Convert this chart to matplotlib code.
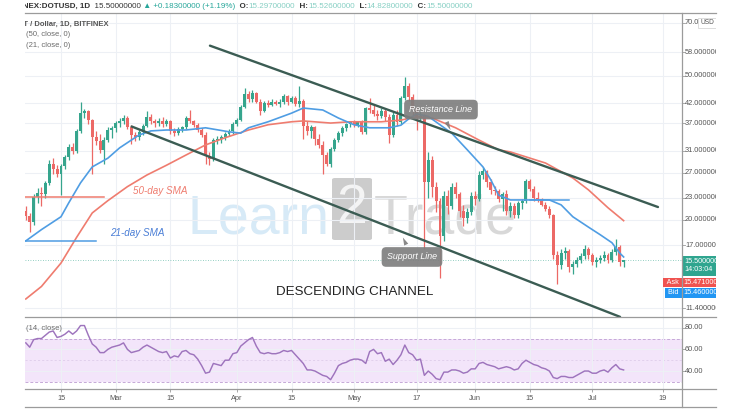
import matplotlib
matplotlib.use("Agg")
import matplotlib.pyplot as plt
import matplotlib.dates as mdates
from matplotlib.lines import Line2D
from matplotlib.patches import FancyBboxPatch
from matplotlib.ticker import NullLocator
import numpy as np
import pandas as pd

plt.rcParams["font.family"] = ["Liberation Sans", "DejaVu Sans"]

# DOT/USD daily candles, Bitfinex, 6 Feb - 9 Jul 2021
first_day = "2021-02-06"
opens = [21.2, 20.5, 19.7, 23.2, 23.7, 23.5, 25.2, 28.6, 27.6, 26.8,
         28.2, 29.8, 31.8, 31.0, 35.2, 39.5, 39.9, 37.7, 33.9, 33.0,
         31.2, 33.3, 35.4, 35.8, 36.9, 37.6, 38.3, 36.1, 34.4, 33.8,
         35.0, 36.4, 38.4, 37.4, 36.9, 37.6, 36.7, 37.4, 35.1, 34.7,
         35.6, 36.0, 38.2, 37.4, 36.6, 35.4, 34.4, 30.0, 29.4, 33.2,
         33.4, 33.8, 34.5, 35.1, 36.8, 37.8, 41.0, 44.4, 43.0, 44.8,
         42.4, 40.0, 42.0, 41.6, 42.4, 41.8, 42.2, 43.8, 42.4, 43.4,
         41.8, 42.6, 36.4, 35.2, 36.0, 33.4, 32.2, 30.2, 28.6, 31.4,
         33.2, 34.8, 35.8, 36.7, 37.2, 36.6, 37.2, 35.0, 40.6, 40.2,
         39.2, 38.6, 40.0, 38.4, 34.2, 39.0, 37.2, 43.4, 46.9, 43.6,
         40.4, 38.2, 38.6, 25.4, 29.3, 24.6, 22.5, 18.0, 23.3, 21.8,
         24.6, 23.6, 21.2, 20.2, 21.0, 23.3, 22.8, 26.6, 27.2, 25.4,
         24.2, 24.0, 22.8, 23.5, 21.2, 21.8, 20.6, 22.2, 22.6, 25.6,
         24.4, 23.0, 22.8, 22.0, 21.4, 20.6, 16.0, 15.0, 16.2, 16.4,
         14.8, 15.1, 15.5, 15.9, 16.6, 16.0, 15.3, 15.5, 15.7, 16.0,
         15.5, 16.3, 16.8, 15.297]
highs = [21.8, 20.9, 23.6, 24.5, 24.6, 25.6, 29.2, 29.6, 28.4, 28.6,
         30.2, 32.4, 32.6, 35.6, 42.3, 40.4, 40.3, 38.0, 35.2, 34.6,
         33.8, 36.0, 36.2, 37.4, 38.2, 39.0, 38.8, 36.6, 35.0, 35.4,
         36.8, 40.0, 39.2, 38.0, 38.2, 38.4, 38.0, 37.8, 35.8, 36.0,
         36.4, 38.6, 40.2, 37.8, 37.0, 35.8, 35.0, 30.8, 33.6, 34.0,
         34.2, 35.0, 35.6, 37.2, 38.2, 41.6, 46.2, 45.4, 45.6, 45.2,
         43.0, 42.6, 42.8, 43.2, 42.8, 43.0, 44.4, 44.2, 43.8, 44.0,
         46.9, 43.0, 37.4, 36.6, 36.4, 34.6, 33.0, 30.8, 31.8, 33.6,
         35.2, 36.2, 37.0, 37.6, 37.8, 37.6, 37.8, 41.0, 43.5, 41.4,
         40.2, 40.6, 40.8, 39.2, 39.6, 40.2, 43.8, 49.5, 47.6, 44.4,
         41.0, 40.4, 39.2, 30.8, 30.0, 25.4, 23.0, 24.0, 24.2, 25.2,
         25.4, 23.8, 22.0, 21.6, 23.8, 24.0, 27.2, 28.0, 27.4, 26.0,
         24.8, 24.4, 23.8, 24.2, 22.4, 22.2, 22.6, 22.8, 26.0, 26.0,
         24.8, 23.8, 23.0, 22.4, 21.8, 20.8, 16.4, 16.6, 16.8, 16.6,
         15.4, 15.8, 16.2, 17.0, 16.8, 16.2, 15.8, 16.0, 16.4, 16.2,
         16.6, 17.7, 17.0, 15.526]
lows = [20.0, 18.5, 19.3, 22.3, 21.8, 23.0, 25.0, 26.8, 26.2, 23.4,
        27.6, 29.2, 30.4, 30.6, 34.8, 38.2, 36.8, 26.7, 32.2, 30.6,
        28.6, 32.8, 33.6, 35.0, 36.0, 36.8, 35.6, 32.4, 33.0, 33.2,
        34.4, 36.0, 36.8, 36.0, 36.2, 36.0, 36.3, 34.6, 34.0, 34.2,
        35.0, 35.6, 37.0, 36.0, 35.0, 33.8, 28.6, 28.4, 29.0, 32.4,
        32.6, 33.2, 34.0, 34.6, 36.2, 37.4, 40.8, 42.2, 42.4, 42.0,
        39.0, 39.6, 41.0, 41.2, 41.4, 41.0, 41.8, 41.6, 42.0, 41.2,
        41.0, 33.4, 34.4, 33.6, 32.2, 31.6, 26.7, 28.2, 28.0, 31.0,
        32.8, 34.0, 35.2, 36.0, 36.0, 36.0, 34.6, 34.6, 39.4, 38.6,
        37.8, 38.2, 37.6, 32.6, 33.8, 36.4, 36.8, 42.8, 42.6, 38.6,
        35.4, 37.6, 16.6, 23.0, 23.2, 21.0, 13.8, 17.5, 20.8, 21.4,
        23.0, 20.4, 19.2, 19.6, 20.6, 22.0, 22.6, 26.0, 24.6, 23.6,
        23.4, 22.4, 21.2, 20.6, 20.4, 20.2, 20.2, 21.4, 22.2, 24.0,
        22.6, 22.4, 21.8, 21.2, 20.2, 15.6, 13.3, 14.6, 15.6, 14.4,
        14.2, 14.8, 15.2, 15.6, 15.6, 15.0, 14.8, 15.2, 15.4, 15.2,
        15.3, 16.0, 14.9, 14.828]
closes = [20.5, 19.7, 23.2, 23.7, 23.5, 25.2, 28.6, 27.6, 26.8, 28.2,
          29.8, 31.8, 31.0, 35.2, 39.5, 39.9, 37.7, 33.9, 33.0, 31.2,
          33.3, 35.4, 35.8, 36.9, 37.6, 38.3, 36.1, 34.4, 33.8, 35.0,
          36.4, 38.4, 37.4, 36.9, 37.6, 36.7, 37.4, 35.1, 34.7, 35.6,
          36.0, 38.2, 37.4, 36.6, 35.4, 34.4, 30.0, 29.4, 33.2, 33.4,
          33.8, 34.5, 35.1, 36.8, 37.8, 41.0, 44.4, 43.0, 44.8, 42.4,
          40.0, 42.0, 41.6, 42.4, 41.8, 42.2, 43.8, 42.4, 43.4, 41.8,
          42.6, 36.4, 35.2, 36.0, 33.4, 32.2, 30.2, 28.6, 31.4, 33.2,
          34.8, 35.8, 36.7, 37.2, 36.6, 37.2, 35.0, 40.6, 40.2, 39.2,
          38.6, 40.0, 38.4, 34.2, 39.0, 37.2, 43.4, 46.9, 43.6, 40.4,
          38.2, 38.6, 25.4, 29.3, 24.6, 22.5, 18.0, 23.3, 21.8, 24.6,
          23.6, 21.2, 20.2, 21.0, 23.3, 22.8, 26.6, 27.2, 25.4, 24.2,
          24.0, 22.8, 23.5, 21.2, 21.8, 20.6, 22.2, 22.6, 25.6, 24.4,
          23.0, 22.8, 22.0, 21.4, 20.6, 16.0, 15.0, 16.2, 16.4, 14.8,
          15.1, 15.5, 15.9, 16.6, 16.0, 15.3, 15.5, 15.7, 16.0, 15.5,
          16.3, 16.8, 15.317, 15.5]

# moving averages, sampled along the drawn curves (candle index, value)
sma50_idx = [0, 4, 9, 13, 17, 21, 26, 31, 36, 41, 46, 51, 57, 62, 68, 71,
             78, 83, 91, 96, 100, 104, 110, 116, 121, 124, 133, 140, 144, 149, 153]
sma50_val = [12.1, 13.1, 15.2, 17.9, 20.9, 22.6, 24.7, 26.6, 28.3, 30.2, 32.2,
             33.7, 35.4, 36.6, 37.3, 37.5, 37.0, 37.3, 37.3, 37.7, 38.5, 38.2,
             35.9, 33.2, 31.2, 30.8, 28.7, 26.1, 24.2, 21.6, 19.9]
sma21_idx = [0, 4, 9, 11, 14, 17, 21, 24, 27, 29, 32, 36, 41, 46, 52, 55, 57,
             62, 68, 71, 76, 80, 84, 88, 93, 96, 98, 100, 103, 109, 113, 117,
             119, 121, 124, 129, 134, 137, 140, 144, 147, 150, 152, 153]
sma21_val = [17.5, 18.8, 20.4, 22.3, 25.3, 28.0, 29.6, 31.6, 33.2, 34.3, 35.2,
             35.4, 35.4, 35.9, 35.0, 34.7, 35.9, 37.3, 39.4, 40.7, 40.2, 38.2,
             36.6, 35.9, 35.9, 36.5, 38.0, 39.2, 38.6, 34.7, 31.2, 28.0, 25.8,
             23.4, 22.7, 22.7, 22.7, 22.0, 20.4, 19.1, 18.2, 17.3, 16.2, 15.8]

rsi = [66, 62, 69, 70, 70, 73, 76, 77, 71, 72,
       74, 77, 74, 77, 82, 82, 73, 65, 62, 57,
       57, 60, 62, 63, 64, 66, 60, 57, 58, 59,
       62, 64, 62, 60, 58, 57, 58, 52, 54, 53,
       58, 59, 56, 55, 51, 45, 38, 39, 47, 46,
       45, 50, 50, 56, 57, 63, 66, 69, 71, 63,
       57, 56, 57, 56, 56, 57, 59, 58, 59, 55,
       51, 47, 41, 41, 40, 38, 36, 35, 32, 38,
       45, 47, 48, 50, 51, 51, 50, 47, 58, 60,
       56, 57, 49, 51, 46, 50, 55, 64, 57, 55,
       50, 51, 36, 40, 37, 33, 32, 39, 39, 41,
       41, 40, 38, 39, 42, 42, 47, 48, 46, 45,
       44, 42, 43, 44, 43, 41, 42, 47, 50, 48,
       46, 45, 43, 42, 40, 34, 33, 35, 35, 34,
       34, 36, 38, 40, 40, 38, 38, 40, 41, 39,
       43, 46, 42, 41]

ask_price = 15.471
bid_price = 15.46
countdown = "14:03:04"

price_ticks = [11.4, 17, 20, 23, 27, 31, 37, 42, 50, 58, 70]
rsi_ticks = [40, 60, 80]
time_ticks = ["2021-02-15", "2021-03-01", "2021-03-15", "2021-04-01", "2021-04-15",
              "2021-05-01", "2021-05-17", "2021-06-01", "2021-06-15", "2021-07-01",
              "2021-07-19"]
time_labels = ["15", "Mar", "15", "Apr", "15", "May", "17", "Jun", "15", "Jul", "19"]

# drawings on the chart
resistance = (["2021-03-25 03:00", "2021-07-17 19:00"], [60.5, 21.7])
support = (["2021-03-05 02:00", "2021-07-08 02:00"], [36.2, 10.8])
sma50_mark = (["2021-02-05 19:00", "2021-02-26"], 23.1)
sma21_mark = (["2021-02-05 19:00", "2021-02-24"], 17.5)
sma21_mark2 = (["2021-06-15", "2021-06-25"], 22.7)

GREEN = "#36a58d"
RED = "#ec6966"
SMA_RED = "#ef7c6f"
SMA_BLUE = "#4f9de3"
CHANNEL = "#3b5c53"
GRID = "#edf0f5"
FRAME = "#9b9b9b"
TXT = "#555555"

W, H = 740, 416


def num(s):
    return mdates.date2num(pd.Timestamp(s))


def frame(x0, y0, x1, y1):
    return [x0 / W, 1 - y1 / H, (x1 - x0) / W, (y1 - y0) / H]


def fxy(x, y):
    return x / W, 1 - y / H


fig = plt.figure(figsize=(W / 100, H / 100), dpi=100)
fig.patch.set_facecolor("white")

ax = fig.add_axes(frame(25, 13, 682, 317))
ax_rsi = fig.add_axes(frame(25, 317, 682, 389), sharex=ax)
ax.set_yscale("log")
ax_ps = fig.add_axes(frame(682, 13, 716, 317), sharey=ax)
ax_rs = fig.add_axes(frame(682, 317, 716, 389), sharey=ax_rsi)
ax_top = fig.add_axes(frame(25, 0, 716, 13))

dates = mdates.date2num(pd.date_range(first_day, periods=len(closes), freq="D"))
o, h, l, c = map(np.array, (opens, highs, lows, closes))

x0 = num("2021-02-15")
ax.set_xlim(x0 - 9.21, x0 + 158.94)
ax.set_ylim(10.79, 74.45)
ax.set_yticks(price_ticks)
ax.yaxis.set_minor_locator(NullLocator())
ax.set_xticks([num(t) for t in time_ticks])
ax.tick_params(which="both", length=0, labelleft=False, labelbottom=False)
ax.grid(True, color=GRID, lw=0.8, zorder=0)
for s in ax.spines.values():
    s.set_visible(False)

# candles
up = c >= o
colors = np.where(up, GREEN, RED)
ax.vlines(dates, l, h, colors=colors, lw=0.9, zorder=3)
bottom = np.minimum(o, c)
height = np.maximum(np.abs(c - o), bottom * 0.004)
ax.bar(dates, height, bottom=bottom, width=0.76, color=colors, lw=0, zorder=3)

# moving averages
ax.plot(dates[sma50_idx], sma50_val, color=SMA_RED, lw=1.2, zorder=4)
ax.plot(dates[sma21_idx], sma21_val, color=SMA_BLUE, lw=1.2, zorder=4)

# last price line
ax.axhline(closes[-1], color=GREEN, lw=0.6, ls=(0, (1, 2)), alpha=0.7, zorder=2)

# channel and marker lines
for d, v in (resistance, support):
    ax.plot([num(t) for t in d], v, color=CHANNEL, lw=1.7, zorder=5,
            solid_capstyle="round")
ax.plot([num(t) for t in sma50_mark[0]], [sma50_mark[1]] * 2, color=SMA_RED, lw=1.1, zorder=4)
ax.plot([num(t) for t in sma21_mark[0]], [sma21_mark[1]] * 2, color=SMA_BLUE, lw=1.1, zorder=4)
ax.plot([num(t) for t in sma21_mark2[0]], [sma21_mark2[1]] * 2, color=SMA_BLUE, lw=1.1, zorder=4)

ax.text(num("2021-03-05 10:00"), 24.0, "50-day SMA", color=SMA_RED, fontsize=7.1,
        style="italic", va="center", ha="left", zorder=6)
ax.text(num("2021-02-27 12:00"), 18.4, "21-day SMA", color="#4a7ed6", fontsize=7.1,
        style="italic", va="center", ha="left", zorder=6)
chan = ax.text(num("2021-04-11"), 12.65, "DESCENDING CHANNEL", color="#222222",
               fontsize=12, va="center", ha="left", zorder=6,
               family=["Liberation Sans Narrow", "Liberation Sans"])

label_box = dict(boxstyle="round,pad=0.6,rounding_size=0.5", fc="#7f7f7f", ec="none", alpha=0.92)
wedge = dict(arrowstyle="wedge,tail_width=0.5,shrink_factor=0.5", fc="#7f7f7f", ec="none", alpha=0.92)
ax.annotate("Resistance Line", xy=(num("2021-05-26"), 34.8),
            xytext=(num("2021-05-23 06:00"), 40.3), ha="center", va="center",
            color="white", fontsize=6.4, style="italic", bbox=label_box,
            arrowprops=wedge, zorder=7)
ax.annotate("Support Line", xy=(num("2021-05-13 05:00"), 18.17),
            xytext=(num("2021-05-15 20:00"), 15.8), ha="center", va="center",
            color="white", fontsize=6.4, style="italic", bbox=label_box,
            arrowprops=wedge, zorder=7)

# watermark
wm = dict(transform=fig.transFigure, fontsize=40, va="baseline", ha="left",
          zorder=1, clip_on=False)
ax.text(*fxy(188, 233), "Learn", color="#d7eaf7", **wm)
ax.add_patch(FancyBboxPatch(fxy(332, 240), 40 / W, 62 / H,
                            boxstyle="round,pad=0,rounding_size=0.004",
                            transform=fig.transFigure, fc="#cccccc", ec="none",
                            zorder=1, clip_on=False))
ax.text(*fxy(352, 209), "2", color="#f4f4f4", transform=fig.transFigure, fontsize=40,
        va="center", ha="center", zorder=1, clip_on=False)
ax.text(*fxy(374, 233), "Trade", color="#d8d8d8", **wm)

# legend text top-left
ax.text(-0.02, (317 - 24) / 304, "DOT / Dollar, 1D, BITFINEX", transform=ax.transAxes,
        fontsize=5.5, fontweight="bold", color=TXT, va="center", ha="left", clip_on=True)
ax.text(0.001, (317 - 34.5) / 304, "(50, close, 0)", transform=ax.transAxes,
        fontsize=5.5, color="#6a6a6a", va="center", ha="left", clip_on=True)
ax.text(0.001, (317 - 45.7) / 304, "(21, close, 0)", transform=ax.transAxes,
        fontsize=5.5, color="#6a6a6a", va="center", ha="left", clip_on=True)

# RSI pane
ax_rsi.set_ylim(23.4, 89.9)
ax_rsi.axhspan(30, 70, color="#f3e5fa", lw=0, zorder=0.5)
for lvl in (30, 70):
    ax_rsi.axhline(lvl, color="#c6a9d8", lw=0.7, ls=(0, (3, 2)), zorder=1)
ax_rsi.axhline(50, color="#dac7e6", lw=0.5, ls=(0, (3, 3)), zorder=1)
ax_rsi.plot(dates, rsi, color="#9e74bd", lw=1.05, zorder=3)
ax_rsi.set_yticks(rsi_ticks)
ax_rsi.set_xticks([num(t) for t in time_ticks], time_labels)
ax_rsi.grid(True, color=GRID, lw=0.8, zorder=0)
ax_rsi.tick_params(axis="x", length=2.5, width=0.6, color="#999999", labelsize=5.3,
                   labelcolor=TXT, pad=2.0)
ax_rsi.tick_params(axis="y", length=0, labelleft=False)
for s in ax_rsi.spines.values():
    s.set_visible(False)
ax_rsi.text(0.001, (389 - 328) / 72, "(14, close)", transform=ax_rsi.transAxes,
            fontsize=5.5, color="#6a6a6a", va="center", ha="left", clip_on=True)

# price scale
ax_ps.set_xlim(0, 1)
ax_ps.axis("off")
for v in price_ticks:
    ax_ps.plot([0, 0.08], [v, v], color=FRAME, lw=0.6, clip_on=False)
    label = f"{v:.1f}" if v == price_ticks[-1] else f"{v:.8f}"
    ax_ps.text(0.09, v, label, fontsize=5.3, color=TXT, va="center", ha="left",
               clip_on=True)
ax_ps.text(0.53, price_ticks[-1], "USD", fontsize=4.8, color=TXT, va="center", ha="left",
           bbox=dict(boxstyle="square,pad=0.25", fc="white", ec="#cfcfcf", lw=0.5),
           clip_on=True)
ax_ps.annotate(f"{closes[-1]:.8f}\n{countdown}", xy=(0, closes[-1]), xytext=(2.5, 1.5),
               textcoords="offset pixels", va="top", ha="left", color="white", fontsize=5.2,
               linespacing=1.2, bbox=dict(boxstyle="square,pad=0.35", fc="#2fa58f", ec="none"),
               annotation_clip=False, clip_on=True)
ax_ps.annotate(f"{ask_price:.8f}", xy=(0, ask_price), xytext=(1.4, -22.2),
               textcoords="offset pixels", va="center", ha="left", color="white", fontsize=5.2,
               bbox=dict(boxstyle="square,pad=0.2", fc="#ef5350", ec="none"),
               annotation_clip=False, clip_on=True)
ax_ps.annotate(f"{bid_price:.8f}", xy=(0, bid_price), xytext=(1.4, -32.3),
               textcoords="offset pixels", va="center", ha="left", color="white", fontsize=5.2,
               bbox=dict(boxstyle="square,pad=0.2", fc="#2196f3", ec="none"),
               annotation_clip=False, clip_on=True)
ax.annotate(" Ask ", xy=(1, ask_price), xycoords=("axes fraction", "data"), xytext=(-1.4, -22.2),
            textcoords="offset pixels", va="center", ha="right", color="white", fontsize=5.2,
            bbox=dict(boxstyle="square,pad=0.2", fc="#ef5350", ec="none"), zorder=8,
            annotation_clip=False)
ax.annotate(" Bid ", xy=(1, bid_price), xycoords=("axes fraction", "data"), xytext=(-1.4, -32.3),
            textcoords="offset pixels", va="center", ha="right", color="white", fontsize=5.2,
            bbox=dict(boxstyle="square,pad=0.2", fc="#2196f3", ec="none"), zorder=8,
            annotation_clip=False)

ax_rs.set_xlim(0, 1)
ax_rs.axis("off")
for v in rsi_ticks:
    ax_rs.plot([0, 0.08], [v, v], color=FRAME, lw=0.6, clip_on=False)
    ax_rs.text(0.09, v, f"{v:.2f}", fontsize=5.3, color=TXT, va="center", ha="left",
               clip_on=True)

# frame lines
for y in (13, 317, 389, 407):
    fig.add_artist(Line2D([25 / W, 716 / W], [1 - y / H] * 2, color=FRAME, lw=0.9))
fig.add_artist(Line2D([682 / W] * 2, [1 - 13 / H, 1 - 407 / H], color=FRAME, lw=0.9))

# header line
ax_top.set_xlim(25, 716)
ax_top.set_ylim(13, 0)
ax_top.axis("off")
change = closes[-1] - closes[-2]
pct = change / closes[-2] * 100
dark, teal, pale = "#333333", "#26a69a", "#86cfc3"
parts = [("BITFINEX:DOTUSD, 1D", "bold", dark),
         (f"  {closes[-1]:.8f}", "normal", dark),
         (f" \u25b2 +{change:.8f} (+{pct:.2f}%)", "normal", teal),
         ("  O:", "bold", dark), (f"{opens[-1]:.8f}", "normal", pale),
         ("  H:", "bold", dark), (f"{highs[-1]:.8f}", "normal", pale),
         ("  L:", "bold", dark), (f"{lows[-1]:.8f}", "normal", pale),
         ("  C:", "bold", dark), (f"{closes[-1]:.8f}", "normal", pale)]
renderer = fig.canvas.get_renderer()
xpos = 3.0
for s, wgt, col in parts:
    t = ax_top.text(xpos, 6.3, s, fontsize=5.8, fontweight=wgt, color=col,
                    va="center", ha="left", clip_on=True)
    xpos = t.get_window_extent(renderer).x1

# make the channel title as wide as on the chart
bb = chan.get_window_extent(renderer)
chan.set_fontsize(12 * 156 / bb.width)

fig.savefig("out.png", dpi=100, facecolor="white")
